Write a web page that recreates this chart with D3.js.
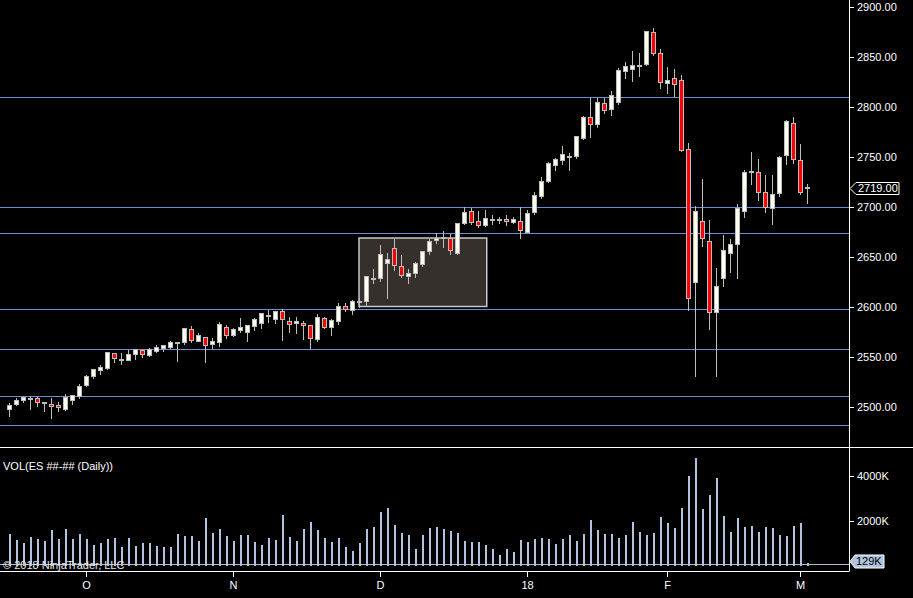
<!DOCTYPE html>
<html>
<head>
<meta charset="UTF-8">
<title>ES Daily</title>
<style>
  body { margin: 0; background: #000; }
  svg { display: block; }
  text { font-family: "Liberation Sans", Arial, sans-serif; font-size: 11px; fill: #fff; }
</style>
</head>
<body>
<svg></svg>
<script src="https://d3js.org/d3.v7.min.js"></script>
<script>

// daily OHLC, one entry per bar (left to right)
let opens = [2497.5,2502.5,2506.5,2508.5,2509,2505,2503,2502,2498,2506.5,2511,2521.25,2530.5,2536.5,2538.25,2553.25,2548,2546.5,2552.5,2556.25,
  2551.25,2556,2558.25,2559.25,2564,2564.5,2577.25,2565.25,2569.25,2562.5,2564.5,2579.25,2571.5,2576.25,2574.5,2580.5,2583.5,2591.5,2587.5,2595.25,
  2586,2583.5,2584,2581.25,2567.25,2588.25,2579.25,2585.25,2600.25,2596.5,2605,2605.5,2628.5,2628.25,2643.5,2658.25,2640.25,2630.25,2633.25,2642.25,
  2655.25,2666.5,2669,2668.5,2653.5,2683.25,2696,2686,2681.5,2687,2687,2688,2684.25,2686,2675,2694.5,2710.25,2725.25,2741.5,2746.5,
  2750.5,2750.5,2768.5,2790,2783,2804,2797.5,2804.5,2835.5,2837.5,2841,2842.5,2875,2854,2824,2829,2827,2758,2624.5,2686,
  2666,2595,2628.5,2654,2663,2695.5,2735.5,2735,2715,2699,2714,2752,2784,2747,2720];
let highs = [2504,2509,2511,2511,2510.5,2505.25,2509.25,2505.25,2513.25,2512,2523,2532.25,2537.25,2542.5,2555.25,2554.25,2554.25,2557.25,2557.25,2558,
  2559,2562,2562,2566,2565.25,2578.25,2581.25,2574.25,2570,2569,2585.25,2582.25,2579.25,2589.25,2582.25,2589.5,2594,2597.25,2596.25,2598,
  2590.25,2590.25,2586.25,2581.25,2593.25,2590.5,2588.25,2604,2604.5,2607.25,2609.5,2631.25,2638.25,2662.25,2654.25,2668.25,2652.25,2638.25,2645.25,2656.25,
  2668.25,2674.25,2676.25,2673,2684.25,2700,2699.25,2696.25,2697.25,2692.25,2690.25,2692.25,2690,2700,2697.25,2715.25,2730,2745.25,2749.25,2761.25,
  2754,2771.25,2791.25,2809.25,2809.5,2809.25,2816.5,2839,2845.25,2856.25,2854.25,2876.25,2879.25,2858,2840.25,2838,2832,2764,2701.5,2728.25,
  2687.25,2639.25,2672.25,2668,2703.25,2737,2755.25,2748.25,2732.25,2732.25,2751.25,2787.25,2790.25,2763.25,2723.25];
let lows = [2490.5,2501.25,2504.5,2497.5,2500.5,2495.25,2488.5,2495.5,2496.5,2502.25,2508.5,2520.5,2528.5,2532.25,2537.25,2544.25,2542.25,2546.5,2547.25,2549.25,
  2550.5,2554.5,2555.5,2558.5,2545.25,2562.5,2564.5,2565.25,2544.5,2558.25,2560.5,2568.5,2570.5,2574.5,2565.5,2576.5,2578.5,2584.5,2583.5,2566.5,
  2574.5,2573.25,2567.25,2558,2565.5,2578,2571.25,2582.25,2595.25,2592.25,2599,2600.5,2623.5,2625,2608.25,2636.25,2629.5,2623.25,2629.25,2640.25,
  2652.25,2663.25,2659.25,2652.25,2652.25,2682.25,2682.25,2679.5,2680.5,2682.25,2683.25,2681.25,2683.25,2668.25,2674,2692.25,2708.25,2724.5,2736.25,2742.25,
  2736.5,2748,2767.25,2769.5,2779.5,2793,2791.5,2802.5,2828.25,2825.25,2830.25,2841.5,2851.5,2818.25,2813.25,2810,2755.5,2596.5,2530,2660.5,
  2577.25,2530.5,2620.5,2634.5,2628,2689,2722.25,2706.25,2694,2682.25,2710.5,2742.25,2743,2712.5,2703.5];
let closes = [2501.25,2507,2509.25,2509,2504.5,2504.25,2500.5,2499.5,2509.25,2512,2520.25,2530.25,2537.25,2540,2554.25,2548.5,2547.25,2552.25,2557.25,2553,
  2557.25,2560,2561.25,2564.25,2564.5,2578.25,2566.25,2571.25,2561.5,2565.5,2582.5,2572,2577.5,2579.25,2581.25,2587.25,2593.25,2592,2595.25,2587.5,
  2583,2586,2581.5,2568.5,2589.25,2579.25,2586.25,2600.25,2598,2605.25,2606,2630.25,2629,2652.25,2648,2641.25,2631.25,2633.25,2643.25,2655.25,
  2665.25,2669,2670,2656.5,2683.25,2695,2685,2681.5,2689,2688,2687.25,2685.5,2687.25,2676.5,2694,2712,2725.25,2743.25,2747.25,2753,
  2751,2770.25,2789.25,2783,2804.25,2797,2812,2836.25,2840.25,2841.25,2842,2875.25,2853.5,2825,2826.25,2823,2757,2609,2695.25,2668.5,
  2595,2620.25,2656.25,2663,2698.25,2735,2736,2715,2699.5,2712.25,2749.5,2785.25,2748,2714.5,2719];
// volume in thousands of contracts
let volumes = [1408,1155,1008,1275,1186,1097,1586,1186,1630,1186,1408,1186,920,1008,1186,1230,830,1230,875,1008,
  1008,875,830,830,1408,1320,1320,1097,2120,1453,1630,1320,1097,1364,1364,1053,920,1230,1142,2253,
  1275,1097,1630,1942,1586,1230,1053,1230,830,653,1008,1630,1720,2386,2564,1808,1453,1364,742,1364,
  1675,1720,1630,1542,1453,1097,1053,1053,920,742,475,742,608,1142,1053,1186,1230,1186,964,1186,
  1364,1097,1408,2030,1586,1408,1408,1230,1364,1942,1497,1364,1453,2164,1897,1675,2564,3986,4786,2520,
  3142,3897,2208,1497,2120,1720,1764,1497,1720,1675,1364,1320,1764,1897,129];

// month labels at the first bar of each month
let monthTicks = [11, 32, 53, 74, 94, 113];
let monthLabels = ["O", "N", "D", "18", "F", "M"];

// horizontal levels drawn on the chart
let levels = [2810, 2700, 2674, 2598, 2558, 2511, 2482];

// rectangle drawing: [first bar, last bar, top price, bottom price]
let boxBars = [50, 68.25];
let boxPrices = [2669, 2600.5];

let priceTicks = d3.range(2500, 2901, 50);
let volTicks = [2000, 4000];
let lastPrice = 2719;

let width = 913, height = 598;
let axisX = 849;

let svg = d3.select("svg").attr("width", width).attr("height", height);
svg.append("rect").attr("width", width).attr("height", height).attr("fill", "#000");

let n = closes.length;
let x = d3.scaleLinear().domain([0, n - 1]).range([9, 9 + 7 * (n - 1)]);
let y = d3.scaleLinear().domain([2500, 2900]).range([407, 7]);
let yv = d3.scaleLinear().domain([0, 4000]).range([565.7, 475.7]);

let lineColor = "#6a8fd8";
let wickColor = "#bdbdbd";

// price levels
svg.append("g").selectAll("line")
  .data(levels).enter().append("line")
  .attr("x1", 0).attr("x2", axisX)
  .attr("y1", d => Math.round(y(d)) + 0.5).attr("y2", d => Math.round(y(d)) + 0.5)
  .attr("stroke", lineColor).attr("stroke-width", 1);

// rectangle drawing
svg.append("rect")
  .attr("x", x(boxBars[0])).attr("y", y(boxPrices[0]))
  .attr("width", x(boxBars[1]) - x(boxBars[0]))
  .attr("height", y(boxPrices[1]) - y(boxPrices[0]))
  .attr("fill", "#35302b").attr("stroke", "#c4c8cc").attr("stroke-width", 1.5);

// candles
let bars = d3.range(n);
let candles = svg.append("g").attr("shape-rendering", "crispEdges");
candles.selectAll("line")
  .data(bars).enter().append("line")
  .attr("x1", i => x(i) + 0.5).attr("x2", i => x(i) + 0.5)
  .attr("y1", i => y(highs[i])).attr("y2", i => y(lows[i]))
  .attr("stroke", wickColor).attr("stroke-width", 1);
candles.selectAll("rect")
  .data(bars).enter().append("rect")
  .attr("x", i => x(i) - 1.5)
  .attr("width", 4)
  .attr("y", i => y(Math.max(opens[i], closes[i])))
  .attr("height", i => Math.max(1, Math.abs(y(opens[i]) - y(closes[i]))))
  .attr("fill", i => closes[i] >= opens[i] ? "#fffff0" : "#ff0000")
  .attr("stroke", wickColor).attr("stroke-width", 1);

// panel separators and axes
svg.append("line").attr("x1", 0).attr("x2", width).attr("y1", 447.5).attr("y2", 447.5)
  .attr("stroke", "#fff");
svg.append("line").attr("x1", axisX + 0.5).attr("x2", axisX + 0.5).attr("y1", 0).attr("y2", 571.5)
  .attr("stroke", "#fff");
svg.append("line").attr("x1", 0).attr("x2", axisX).attr("y1", 571.5).attr("y2", 571.5)
  .attr("stroke", "#fff");

// price axis
let pAxis = svg.append("g");
pAxis.selectAll("line").data(priceTicks).enter().append("line")
  .attr("x1", axisX).attr("x2", axisX + 5)
  .attr("y1", d => Math.round(y(d)) + 0.5).attr("y2", d => Math.round(y(d)) + 0.5)
  .attr("stroke", "#fff");
pAxis.selectAll("text").data(priceTicks).enter().append("text")
  .attr("x", 857).attr("y", d => y(d)).attr("dy", "0.35em")
  .text(d => d3.format(".2f")(d));

// last price marker
let ly = Math.round(y(lastPrice)) + 0.5;
svg.append("path")
  .attr("d", `M${axisX + 1},${ly} L${axisX + 7},${ly - 6} L899,${ly - 6} L899,${ly + 6} L${axisX + 7},${ly + 6} Z`)
  .attr("fill", "#000").attr("stroke", "#fff");
svg.append("text").attr("x", 858).attr("y", ly).attr("dy", "0.36em").text(d3.format(".2f")(lastPrice));

// volume bars
svg.append("line").attr("x1", 0).attr("x2", axisX).attr("y1", 564.5).attr("y2", 564.5)
  .attr("stroke", "#b0bcd0");
svg.append("g").attr("shape-rendering", "crispEdges")
  .selectAll("rect").data(bars).enter().append("rect")
  .attr("x", i => x(i) - 0.5).attr("width", 2)
  .attr("y", i => yv(volumes[i])).attr("height", i => yv(0) - yv(volumes[i]))
  .attr("fill", "#b0c4de");

// volume axis
let vAxis = svg.append("g");
vAxis.selectAll("line").data(volTicks).enter().append("line")
  .attr("x1", axisX).attr("x2", axisX + 5)
  .attr("y1", d => Math.round(yv(d)) + 0.5).attr("y2", d => Math.round(yv(d)) + 0.5)
  .attr("stroke", "#fff");
vAxis.selectAll("text").data(volTicks).enter().append("text")
  .attr("x", 857).attr("y", d => yv(d)).attr("dy", "0.35em")
  .text(d => d + "K");

// last volume marker
let lastVol = volumes[n - 1];
let vy = 561.5;
svg.append("path")
  .attr("d", `M${axisX + 1},${vy} L${axisX + 6},${vy - 6.5} L884,${vy - 6.5} L884,${vy + 6.5} L${axisX + 6},${vy + 6.5} Z`)
  .attr("fill", "#b0c4de").attr("stroke", "#fff");
svg.append("text").attr("x", 856).attr("y", vy).attr("dy", "0.36em")
  .style("fill", "#000").text(lastVol + "K");

// month axis
let mAxis = svg.append("g");
mAxis.selectAll("line").data(monthTicks).enter().append("line")
  .attr("x1", i => x(i) + 0.5).attr("x2", i => x(i) + 0.5)
  .attr("y1", 571).attr("y2", 577)
  .attr("stroke", "#fff");
mAxis.selectAll("text").data(monthTicks).enter().append("text")
  .attr("x", i => x(i) + 0.5).attr("y", 585).attr("dy", "0.35em")
  .attr("text-anchor", "middle")
  .text((d, k) => monthLabels[k]);

// labels
svg.append("text").attr("x", 3).attr("y", 466).attr("dy", "0.35em").text("VOL(ES ##-## (Daily))");
svg.append("text").attr("x", 3).attr("y", 565).attr("dy", "0.35em").style("fill", "#e8e8e8")
  .text("© 2018 NinjaTrader, LLC");

</script>
</body>
</html>
